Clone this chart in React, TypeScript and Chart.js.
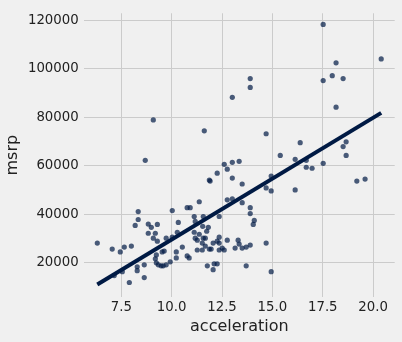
import React, { useEffect, useRef } from "react";
import { Chart, registerables } from "chart.js";

Chart.register(...registerables);

const acceleration = [
  6.31, 7.05, 7.45, 7.65, 8.0, 8.19, 8.34, 8.34, 8.84, 8.99, 9.29, 8.84, 9.19, 9.09, 9.29,
  8.29, 8.29, 8.64, 8.64, 7.9, 7.55, 7.15, 8.69, 9.09, 11.62, 13.01, 17.52, 20.4, 18.16, 13.9,
  13.9, 17.97, 17.52, 18.51, 18.16, 14.69, 16.38, 18.66, 18.51, 18.66, 19.19, 19.6, 15.39, 16.13, 16.68,
  16.68, 16.97, 17.52, 16.13, 14.94, 14.69, 14.94, 12.61, 13.01, 13.35, 12.76, 12.26, 13.01, 13.5, 11.87,
  11.91, 12.76, 13.01, 13.5, 13.9, 13.9, 14.1, 14.05, 12.36, 10.03, 10.77, 10.92, 11.37, 10.33, 11.12,
  11.57, 11.17, 11.54, 11.82, 11.74, 10.28, 11.12, 11.37, 11.17, 11.27, 11.57, 11.67, 11.52, 11.67, 11.87,
  11.96, 11.52, 11.27, 9.73, 10.03, 10.53, 10.23, 10.23, 10.77, 10.87, 9.63, 9.53, 9.24, 9.19, 9.24,
  9.34, 9.48, 9.58, 9.73, 9.93, 11.77, 12.11, 12.06, 12.26, 13.7, 14.94, 12.36, 12.26, 12.36, 12.51,
  12.36, 12.61, 12.06, 12.76, 13.15, 13.3, 13.35, 13.5, 13.7, 13.9, 14.69,
];

const msrp = [
  28130, 25690, 24480, 26510, 26910, 35440, 37870, 41120, 35970, 34630, 35840, 32190, 32190, 30160, 28940,
  18390, 16770, 19200, 13920, 11890, 16360, 14740, 62230, 78880, 74410, 88210, 118250, 104040, 102420, 95930,
  92270, 97140, 95110, 95930, 84150, 73190, 69540, 69860, 67920, 64260, 53710, 54520, 64260, 62640, 62230,
  59390, 58980, 61010, 50050, 55740, 50870, 49650, 60610, 61420, 61830, 58580, 56950, 54930, 52490, 54110,
  53710, 45990, 46400, 44780, 42750, 40310, 37470, 35840, 39090, 41530, 42750, 42750, 45180, 36660, 39090,
  39090, 37060, 35030, 34630, 33010, 32600, 32600, 31790, 30160, 29350, 30160, 30160, 28130, 26910, 25690,
  25690, 25290, 25290, 30160, 30570, 26510, 24480, 22040, 22850, 22040, 24880, 24480, 23260, 21640, 20010,
  19200, 18790, 18790, 19200, 20420, 18790, 19610, 17170, 19610, 18790, 16360, 30570, 28940, 28130, 26100,
  25290, 25290, 28130, 29350, 26100, 29350, 27730, 26100, 26510, 27320, 28130,
];

const fitX = [6.31, 20.4];
const fitY = [11080, 81800];

const xTicks = [7.5, 10, 12.5, 15, 17.5, 20];
const yTicks = [20000, 40000, 60000, 80000, 100000, 120000];

export default function App() {
  const ref = useRef<HTMLCanvasElement | null>(null);

  useEffect(() => {
    document.body.style.margin = "0";
    document.body.style.background = "#f0f0f0";
    const canvas = ref.current;
    if (!canvas) return;
    const font = { family: "DejaVu Sans", size: 13.3 };
    const chart = new Chart(canvas, {
      type: "scatter",
      data: {
        datasets: [
          {
            label: "fit",
            data: fitX.map((x, i) => ({ x, y: fitY[i] })),
            showLine: true,
            borderColor: "#001a44",
            borderWidth: 4,
            pointRadius: 0,
            order: 0,
          },
          {
            label: "points",
            data: acceleration.map((x, i) => ({ x, y: msrp[i] })),
            backgroundColor: "rgba(0,26,68,0.7)",
            borderWidth: 0,
            pointRadius: 2.6,
            order: 1,
          },
        ],
      },
      options: {
        animation: false,
        responsive: false,
        devicePixelRatio: 1,
        layout: { padding: { left: 0, right: 7.3, top: 9, bottom: 0 } },
        plugins: { legend: { display: false }, tooltip: { enabled: false } },
        scales: {
          x: {
            type: "linear",
            min: 5.65,
            max: 21.07,
            afterBuildTicks: (s: any) => {
              s.ticks = xTicks.map((v) => ({ value: v }));
            },
            afterFit: (s: any) => {
              s.height = 45;
            },
            ticks: {
              font,
              color: "#222",
              padding: 3,
              maxRotation: 0,
              callback: (v: any) => Number(v).toFixed(1),
            },
            grid: { color: "#cbcbcb", lineWidth: 1, drawTicks: false },
            border: { display: false },
            title: {
              display: true,
              text: "acceleration",
              font: { family: "DejaVu Sans", size: 16 },
              color: "#222",
              padding: { top: 0, bottom: 6 },
            },
          },
          y: {
            type: "linear",
            min: 5925,
            max: 122842,
            afterBuildTicks: (s: any) => {
              s.ticks = yTicks.map((v) => ({ value: v }));
            },
            afterFit: (s: any) => {
              s.width = 84;
            },
            ticks: {
              font,
              color: "#222",
              padding: 5.3,
              callback: (v: any) => String(v),
            },
            grid: { color: "#cbcbcb", lineWidth: 1, drawTicks: false },
            border: { display: false },
            title: {
              display: true,
              text: "msrp",
              font: { family: "DejaVu Sans", size: 16 },
              color: "#222",
              padding: { top: 3.7, bottom: 0 },
            },
          },
        },
      },
    });
    return () => chart.destroy();
  }, []);

  return (
    <div style={{ position: "fixed", left: 0, top: 0, width: 402, height: 342, background: "#f0f0f0" }}>
      <canvas ref={ref} width={402} height={342} style={{ display: "block", width: 402, height: 342 }} />
    </div>
  );
}
